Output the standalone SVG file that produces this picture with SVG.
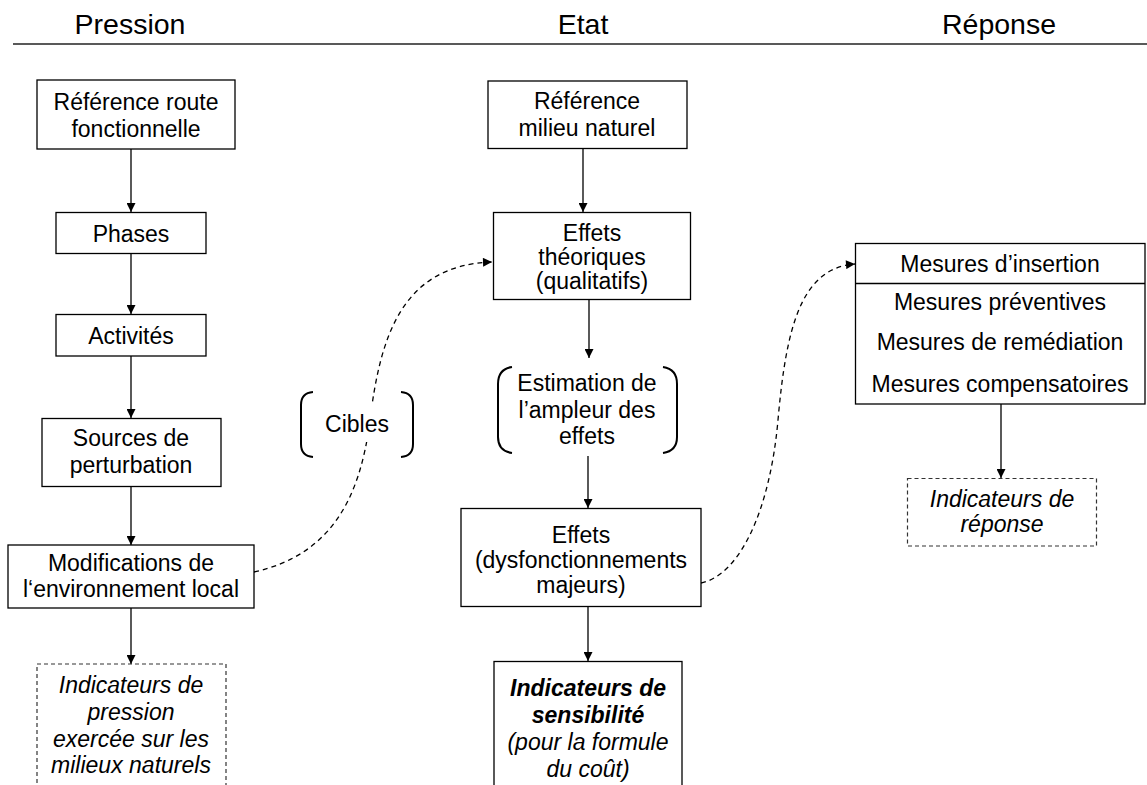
<svg xmlns="http://www.w3.org/2000/svg" width="1147" height="785" viewBox="0 0 1147 785">
<defs>
<style>
text{font-family:"Liberation Sans",Arial,sans-serif;font-size:23px;fill:#000;text-anchor:middle}
.hd{font-size:28.5px}
.it{font-style:italic}
.bi{font-style:italic;font-weight:bold}
.box{fill:#fff;stroke:#000;stroke-width:1.3}
.dbox{fill:#fff;stroke:#333;stroke-width:1.2;stroke-dasharray:4,3}
.br{fill:none;stroke:#000;stroke-width:2}
.arr{fill:none;stroke:#000;stroke-width:1.3;marker-end:url(#ah)}
.darr{fill:none;stroke:#000;stroke-width:1.3;stroke-dasharray:5,4;marker-end:url(#ah)}
</style>
<marker id="ah" viewBox="0 0 10 10" refX="10" refY="5" markerWidth="10" markerHeight="9" markerUnits="userSpaceOnUse" orient="auto">
<path d="M0,0 L10,5 L0,10 z" fill="#000"/>
</marker>
</defs>
<rect width="1147" height="785" fill="#fff"/>

<g id="header">
<text class="hd" x="130" y="34">Pression</text>
<text class="hd" x="583" y="34">Etat</text>
<text class="hd" x="999" y="34">Réponse</text>
<line x1="13" y1="44" x2="1147" y2="44" stroke="#222" stroke-width="1.5"/>
</g>

<g id="connectors">
<path class="arr" d="M131,149 V212"/>
<path class="arr" d="M131,254 V314"/>
<path class="arr" d="M131,356 V418"/>
<path class="arr" d="M131,487 V545"/>
<path class="arr" d="M131,608 V664"/>
<path class="arr" d="M583,149 V212"/>
<path class="arr" d="M589,300 V358"/>
<path class="arr" d="M588,456 V508"/>
<path class="arr" d="M588,607 V661"/>
<path class="arr" d="M1001,404 V478"/>
<path class="darr" d="M254,572 C330,555 360,500 370,420 S400,265 492,262"/>
<path class="darr" d="M701,583 C740,575 770,510 778,420 S800,268 855,264"/>
</g>

<g id="ref-route">
<rect class="box" x="37" y="80" width="198" height="69"/>
<text x="136" y="110">Référence route</text>
<text x="136" y="136.5">fonctionnelle</text>
</g>
<g id="phases">
<rect class="box" x="56" y="212.5" width="150" height="41"/>
<text x="131" y="241.5">Phases</text>
</g>
<g id="activites">
<rect class="box" x="56" y="314.5" width="150" height="41.5"/>
<text x="131" y="343.5">Activités</text>
</g>
<g id="sources">
<rect class="box" x="42" y="418.5" width="179" height="68"/>
<text x="131" y="446">Sources de</text>
<text x="131" y="473">perturbation</text>
</g>
<g id="modifications">
<rect class="box" x="8" y="545" width="246" height="63"/>
<text x="131" y="571">Modifications de</text>
<text x="131" y="597">l‘environnement local</text>
</g>
<g id="ind-pression">
<rect class="dbox" x="37" y="664" width="189" height="140"/>
<text class="it" x="131" y="693">Indicateurs de</text>
<text class="it" x="131" y="720">pression</text>
<text class="it" x="131" y="746.5">exercée sur les</text>
<text class="it" x="131" y="773">milieux naturels</text>
</g>

<g id="cibles">
<rect x="330" y="402" width="54" height="40" fill="#fff"/>
<path class="br" d="M313,392 Q301,393 301,405 V444 Q301,456 313,457"/>
<path class="br" d="M401,392 Q413,393 413,405 V444 Q413,456 401,457"/>
<text x="357" y="432">Cibles</text>
</g>

<g id="ref-milieu">
<rect class="box" x="488" y="81" width="199" height="67.5"/>
<text x="587" y="109">Référence</text>
<text x="587" y="135.5">milieu naturel</text>
</g>
<g id="effets-theoriques">
<rect class="box" x="493.5" y="212.5" width="197" height="87"/>
<text x="592" y="241">Effets</text>
<text x="592" y="265">théoriques</text>
<text x="592" y="289">(qualitatifs)</text>
</g>
<g id="estimation">
<path class="br" d="M512,367 Q498,369 498,384 V437 Q498,451 512,453"/>
<path class="br" d="M663,367 Q677,369 677,384 V437 Q677,451 663,453"/>
<text x="587" y="391">Estimation de</text>
<text x="587" y="417.5">l’ampleur des</text>
<text x="587" y="444">effets</text>
</g>
<g id="effets-dysf">
<rect class="box" x="461" y="508.5" width="240" height="98"/>
<text x="581" y="543">Effets</text>
<text x="581" y="568">(dysfonctionnements</text>
<text x="581" y="593">majeurs)</text>
</g>
<g id="ind-sensibilite">
<rect class="box" x="494" y="661.5" width="188" height="140"/>
<text class="bi" x="588" y="696">Indicateurs de</text>
<text class="bi" x="588" y="723">sensibilité</text>
<text class="it" x="588" y="750">(pour la formule</text>
<text class="it" x="588" y="776.5">du coût)</text>
</g>

<g id="mesures">
<rect class="box" x="855.5" y="243.5" width="289.5" height="160.5"/>
<line x1="855.5" y1="283.5" x2="1145" y2="283.5" stroke="#000" stroke-width="1.3"/>
<text x="1000" y="272">Mesures d’insertion</text>
<text x="1000" y="309.5">Mesures préventives</text>
<text x="1000" y="350">Mesures de remédiation</text>
<text x="1000" y="391.5">Mesures compensatoires</text>
</g>
<g id="ind-reponse">
<rect class="dbox" x="907.5" y="478.5" width="189" height="67.5"/>
<text class="it" x="1002" y="506.5">Indicateurs de</text>
<text class="it" x="1002" y="532">réponse</text>
</g>
</svg>
